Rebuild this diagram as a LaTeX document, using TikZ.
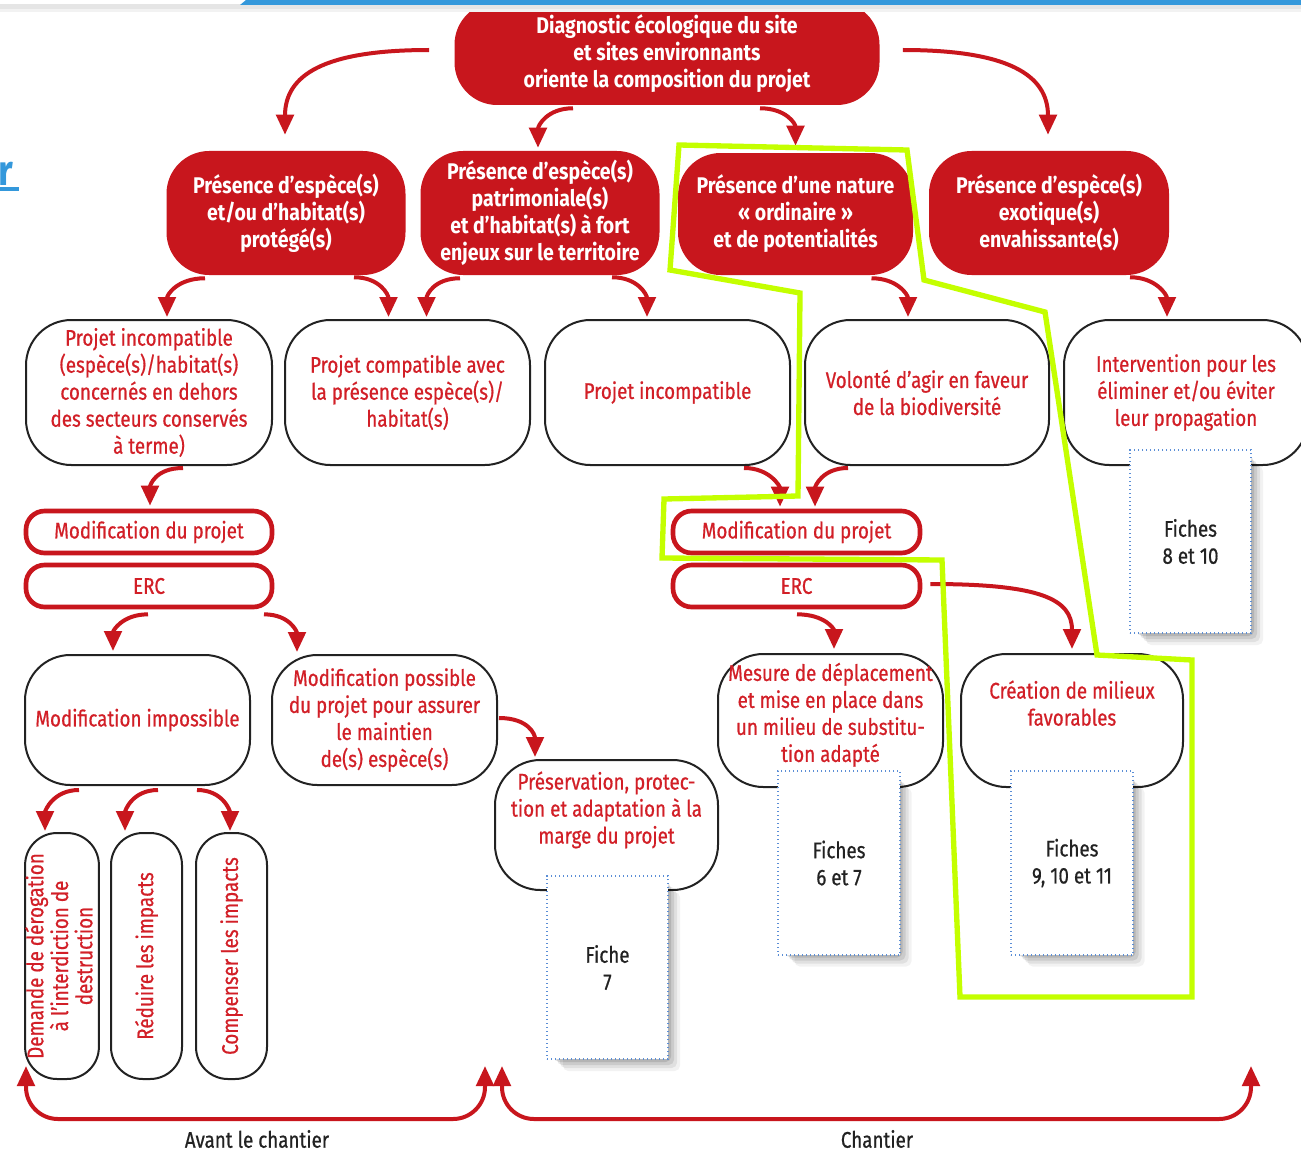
\documentclass[tikz,border=0pt]{standalone}
\usepackage{fontspec}
\usepackage{graphicx}
\setmainfont{Fira Sans}[UprightFeatures={FakeStretch=0.83, FakeBold=0.6}, BoldFeatures={FakeStretch=0.86}]
\usetikzlibrary{arrows.meta,calc}
\definecolor{rd}{HTML}{C8161D}
\definecolor{rtx}{HTML}{D21F27}
\definecolor{lime}{HTML}{C4FF00}
\definecolor{bbar}{HTML}{3498DB}
\definecolor{dotb}{HTML}{5B8ED6}
\definecolor{ink}{HTML}{222222}
\begin{document}
\begin{tikzpicture}[x=0.75pt,y=-0.75pt,
  txt/.style={font=\fontsize{17}{20.25}\selectfont},
  redbox/.style={fill=rd, draw=none, rounded corners=32pt, text=white, align=center, inner sep=0pt, font=\fontsize{17}{20.25}\selectfont\bfseries},
  wbox/.style={draw=ink, line width=1.5pt, fill=white, rounded corners=34pt, text=rtx, align=center, inner sep=0pt, txt},
  pill/.style={draw=rd, line width=3.5pt, fill=white, rounded corners=14pt, text=rtx, align=center, inner sep=0pt, txt},
  vbox/.style={draw=ink, line width=1.5pt, fill=white, rounded corners=24pt, text=rtx, align=center, inner sep=0pt, font=\fontsize{17}{16.5}\selectfont},
  fiche/.style={draw=dotb, dotted, line width=1pt, fill=white, align=center, inner sep=0pt, text=ink, txt},
  arr/.style={draw=rd, line width=3pt, -{Triangle[width=13pt,length=15pt]}},
  brk/.style={draw=rd, line width=3pt, rounded corners=24pt, {Triangle[width=13pt,length=15pt]}-{Triangle[width=13pt,length=15pt]}},
  lbl/.style={text=ink, txt},
]
\useasboundingbox (0,0) rectangle (1301,1152);
\fill[white] (0,0) rectangle (1301,1152);

% top-left link fragment
\node[text=bbar, font=\fontsize{32}{34}\selectfont\bfseries, anchor=south west, inner sep=0pt] (lnk) at (-2,186) {r};
\fill[bbar] (0,187) rectangle (19,191);

% ---------- Row 1 ----------
\node[redbox, minimum width=318.75pt, minimum height=77.25pt] (diag) at (667,53.5)
  {Diagnostic écologique du site\\et sites environnants\\oriente la composition du projet};

% top bar
\fill[black!10] (0,4) rectangle (1301,9);
\fill[black!5] (0,9) rectangle (1301,12);
\fill[white] (0,0) rectangle (1301,4);
\fill[bbar] (246,0) -- (1301,0) -- (1301,5) -- (240,5) -- cycle;

% ---------- Row 2 ----------
\node[redbox, minimum width=179.25pt, minimum height=93pt] (A) at (286,213)
  {Présence d’espèce(s)\\et/ou d’habitat(s)\\protégé(s)};
\node[redbox, minimum width=179.25pt, minimum height=93pt] (B) at (540,213)
  {Présence d’espèce(s)\\patrimoniale(s)\\et d’habitat(s) à fort\\enjeux sur le territoire};
\node[redbox, minimum width=176.25pt, minimum height=91.5pt] (C) at (795.5,214)
  {Présence d’une nature\\« ordinaire »\\et de potentialités};
\node[redbox, minimum width=180pt, minimum height=93pt] (D) at (1049,213)
  {Présence d’espèce(s)\\exotique(s)\\envahissante(s)};

% ---------- Row 3 ----------
\node[wbox, minimum width=184.5pt, minimum height=108.75pt] (E) at (149,392.5)
  {Projet incompatible\\(espèce(s)/habitat(s)\\concernés en dehors\\des secteurs conservés\\à terme)};
\node[wbox, minimum width=183.75pt, minimum height=108.75pt] (F) at (407.5,392.5)
  {Projet compatible avec\\la présence espèce(s)/\\habitat(s)};
\node[wbox, minimum width=183.75pt, minimum height=108.75pt] (G) at (667.5,392.5)
  {Projet incompatible};
\node[wbox, minimum width=183pt, minimum height=108.75pt] (H) at (927,392.5)
  {Volonté d’agir en faveur\\de la biodiversité};
\node[wbox, minimum width=183pt, minimum height=108.75pt] (I) at (1186,392.5)
  {Intervention pour les\\éliminer et/ou éviter\\leur propagation};

% ---------- Row 4 ----------
\node[pill, minimum width=184.5pt, minimum height=31.5pt] (modL) at (149,532) {Modification du projet};
\node[pill, minimum width=184.5pt, minimum height=31.5pt] (ercL) at (149,586) {ERC};
\node[pill, minimum width=185.25pt, minimum height=31.5pt] (modR) at (796.5,532) {Modification du projet};
\node[pill, minimum width=185.25pt, minimum height=31.5pt] (ercR) at (796.5,586) {ERC};

% ---------- Row 5 ----------
\node[wbox, minimum width=168.75pt, minimum height=97.5pt] (J) at (137.5,720) {Modification impossible};
\node[wbox, minimum width=168.75pt, minimum height=97.5pt] (K) at (384.5,720)
  {Modification possible\\du projet pour assurer\\le maintien\\de(s) espèce(s)};
\node[wbox, minimum width=167.25pt, minimum height=97.5pt] (L) at (606.5,825)
  {Préservation, protec-\\tion et adaptation à la\\marge du projet\\[6pt]};
\node[wbox, minimum width=168.75pt, minimum height=99.75pt] (M) at (830.5,720.5)
  {Mesure de déplacement\\et mise en place dans\\un milieu de substitu-\\tion adapté\\[-8pt]};
\node[wbox, minimum width=166.5pt, minimum height=99.75pt] (N) at (1072,720.5)
  {Création de milieux\\favorables\\[6pt]};

% vertical boxes
\node[vbox, minimum width=52.5pt, minimum height=184.5pt] (V1) at (62,956)
  {\rotatebox{90}{\begin{tabular}{@{}c@{}}Demande de dérogation\\à l’interdiction de\\destruction\end{tabular}}};
\node[vbox, minimum width=53.25pt, minimum height=184.5pt] (V2) at (146.5,956)
  {\rotatebox{90}{Réduire les impacts}};
\node[vbox, minimum width=53.25pt, minimum height=184.5pt] (V3) at (231.5,956)
  {\rotatebox{90}{Compenser les impacts}};

% ---------- Arrows ----------
\draw[arr] ($(diag.west)+(-25,-3.5)$) .. controls +(-105,0) and +(0,-60) .. ($(A.north)+(-1,-16)$);
\draw[arr] ($(diag.east)+(23,-3.5)$) .. controls +(105,0) and +(0,-60) .. ($(D.north)+(-1,-16)$);
\draw[arr] ($(diag.south)+(-94,3)$) .. controls +(-26,0) and +(0,-22) .. ($(B.north)+(-2,-3)$);
\draw[arr] ($(diag.south)+(93,3)$) .. controls +(26,0) and +(0,-22) .. ($(C.north)+(0,-7)$);

\draw[arr] ($(A.south)+(-81,3)$) .. controls +(-28,0) and +(0,-22) .. ($(E.north)+(18,-2)$);
\draw[arr] ($(A.south)+(68,2)$) .. controls +(26,0) and +(0,-22) .. ($(F.north)+(-19,-2)$);
\draw[arr] ($(B.south)+(-80,3)$) .. controls +(-26,0) and +(0,-22) .. ($(F.north)+(19,-2)$);
\draw[arr] ($(B.south)+(72,2)$) .. controls +(26,0) and +(0,-22) .. ($(G.north)+(-20.5,-2)$);
\draw[arr] ($(C.south)+(76,3)$) .. controls +(26,0) and +(0,-22) .. ($(H.north)+(-19,-2)$);
\draw[arr] ($(D.south)+(81,2)$) .. controls +(26,0) and +(0,-22) .. ($(I.north)+(-19,-2)$);

\draw[arr] ($(E.south)+(34,2)$) .. controls +(-28,0) and +(0,-20) .. ($(modL.north)+(1,-3)$);
\draw[arr] ($(G.south)+(76.5,2)$) .. controls +(26,0) and +(0,-20) .. ($(modR.north)+(-16.5,-2)$);
\draw[arr] ($(H.south)+(-79,2)$) .. controls +(-26,0) and +(0,-20) .. ($(modR.north)+(18.5,-2)$);

\draw[arr] ($(ercL.south)+(-1,5)$) .. controls +(-26,0) and +(0,-20) .. ($(J.north)+(-24.5,-3)$);
\draw[arr] ($(ercL.south)+(115,5)$) .. controls +(26,0) and +(0,-20) .. ($(K.north)+(-87.5,-2)$);
\draw[arr] ($(ercR.south)+(0.5,5)$) .. controls +(28,0) and +(0,-20) .. ($(M.north)+(3.5,-4)$);
\draw[arr] ($(ercR.east)+(8,-2)$) .. controls +(110,0) and +(0,-50) .. ($(N.north)+(0,-4)$);
\draw[arr] ($(K.east)+(1,-2)$) .. controls +(30,0) and +(0,-22) .. ($(L.north)+(-71.5,-2)$);

\draw[arr] ($(J.south)+(-58.5,4)$) .. controls +(-26,0) and +(0,-20) .. ($(V1.north)+(-17,-1)$);
\draw[arr] ($(J.south)+(20.5,4)$) .. controls +(-26,0) and +(0,-20) .. ($(V2.north)+(-21.5,-1)$);
\draw[arr] ($(J.south)+(59.5,4)$) .. controls +(26,0) and +(0,-20) .. ($(V3.north)+(-1.5,-1)$);

% ---------- Fiche boxes with shadows ----------
\foreach \cx/\cy in {1190.5/541.5, 839/863, 1072/863, 607.5/967.5}{
  \foreach \d/\o in {16/0.05, 13/0.07, 10/0.09, 7/0.11}{
    \fill[black, opacity=\o, rounded corners=4pt] (\cx-60.5+\d, \cy-91.5+\d) rectangle (\cx+60.5+\d-4, \cy+91.5+\d-4);
  }
}
\node[fiche, minimum width=90.75pt, minimum height=137.25pt] (f810) at (1190.5,541.5) {Fiches\\8 et 10};
\node[fiche, minimum width=91.5pt, minimum height=138pt] (f67) at (839,863) {Fiches\\6 et 7};
\node[fiche, minimum width=91.5pt, minimum height=138pt] (f91011) at (1072,863) {Fiches\\9, 10 et 11};
\node[fiche, minimum width=90.75pt, minimum height=137.25pt] (f7) at (607.5,967.5) {Fiche\\7};

% ---------- Bottom brackets ----------
\coordinate (avL) at (26,1066);
\coordinate (avR) at (485,1066);
\coordinate (chL) at (502,1066);
\coordinate (chR) at (1251,1066);
\draw[brk] (avL) -- (avL |- 0,1119) -- (avR |- 0,1119) -- (avR);
\draw[brk] (chL) -- (chL |- 0,1119) -- (chR |- 0,1119) -- (chR);
\node[lbl] (avant) at (257,1139) {Avant le chantier};
\node[lbl] (chant) at (877,1139) {Chantier};

% ---------- Green highlight ----------
\draw[lime, line width=4pt, line join=miter] (679,145) -- (907,150) -- (924,280) -- (1045,312) -- (1097,655)
  -- (1192,660) -- (1192,997) -- (960,997) -- (942,560) -- (662,558) -- (664,499) -- (798,496)
  -- (800,293) -- (670,270) -- cycle;
\end{tikzpicture}
\end{document}
